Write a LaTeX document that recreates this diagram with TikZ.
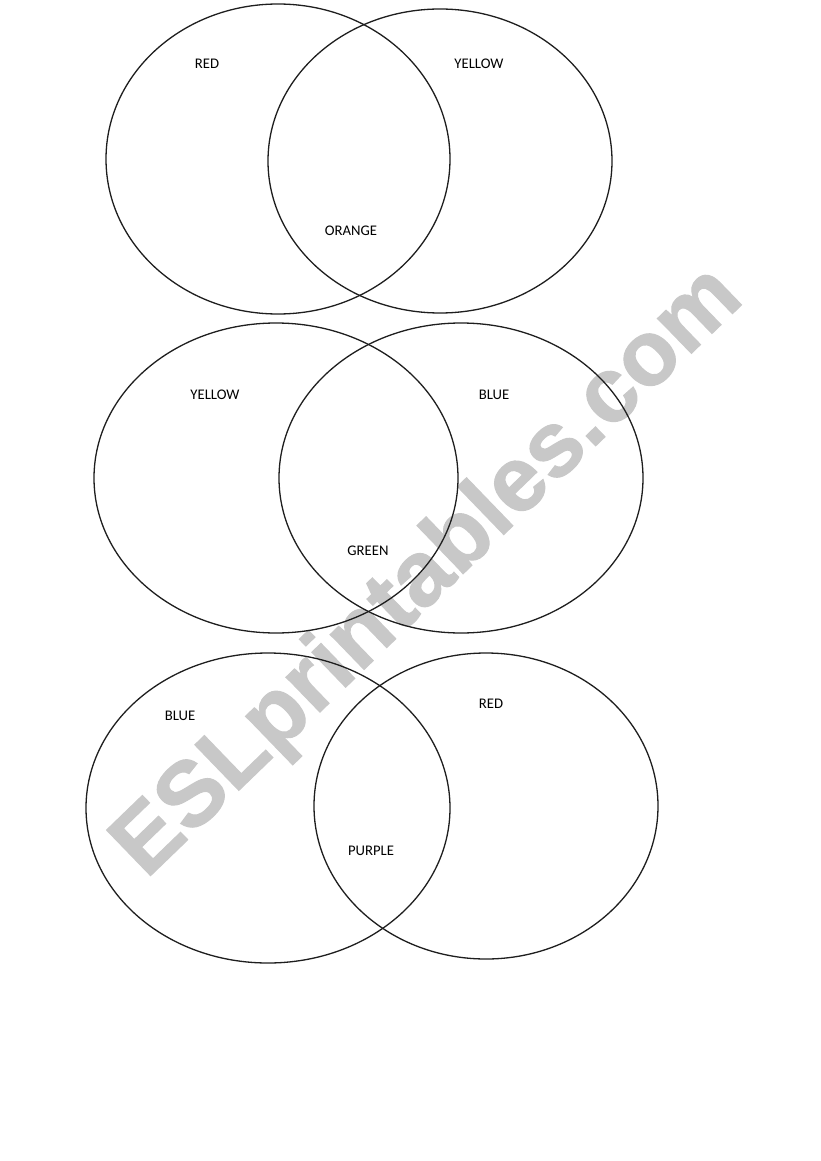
\documentclass[tikz,border=0pt]{standalone}
\usepackage{fontspec}
\setmainfont{Carlito}
\newfontfamily\wmfont{Liberation Sans}[BoldFeatures={FakeBold=1.2}]
\definecolor{wmgray}{RGB}{200,200,200}
\definecolor{inkline}{RGB}{30,30,30}
\tikzset{
  venn/.style={draw=inkline, line width=1.3pt},
  lbl/.style={inner sep=0pt, font=\fontsize{14.7}{16}\selectfont, text=black},
  wm/.style={inner sep=0pt, anchor=base west, rotate=44, text=wmgray,
    font=\wmfont\bfseries\fontsize{92}{92}\selectfont}
}
\begin{document}
\begin{tikzpicture}[x=1pt,y=-1pt]
\useasboundingbox (0,0) rectangle (821,1161);
\fill[white] (0,0) rectangle (821,1161);
% watermark
\node[wm] (wmark) at (146,880) {ESLprintables.com};
% top pair
\draw[venn] (278,159) ellipse [x radius=172, y radius=155];
\draw[venn] (440,161) ellipse [x radius=172, y radius=152];
\node[lbl] (t1) at (207,64) {RED};
\node[lbl] (t2) at (479,64) {YELLOW};
\node[lbl] (t3) at (351,231) {ORANGE};
% middle pair
\draw[venn] (276,478) ellipse [x radius=182, y radius=155];
\draw[venn] (461,478) ellipse [x radius=182, y radius=155];
\node[lbl] (m1) at (215,395) {YELLOW};
\node[lbl] (m2) at (494,395) {BLUE};
\node[lbl] (m3) at (368,551) {GREEN};
% bottom pair
\draw[venn] (268,808) ellipse [x radius=182, y radius=155];
\draw[venn] (486,806) ellipse [x radius=172, y radius=153];
\node[lbl] (b1) at (180,716) {BLUE};
\node[lbl] (b2) at (491,704) {RED};
\node[lbl] (b3) at (371,851) {PURPLE};
\end{tikzpicture}
\end{document}
